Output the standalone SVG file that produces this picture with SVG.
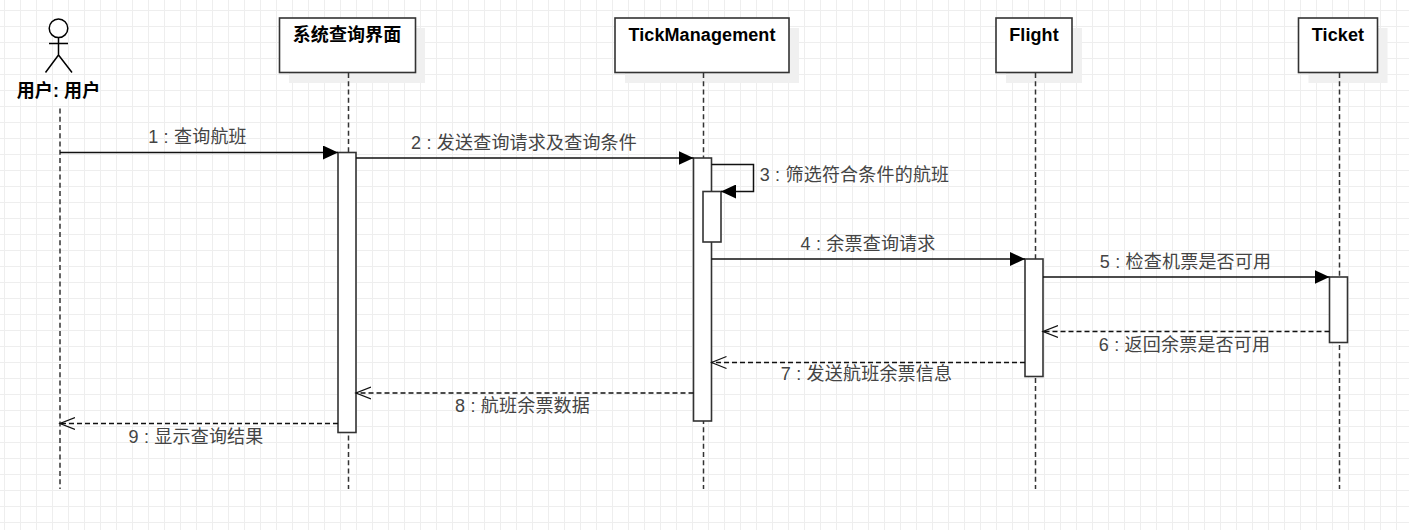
<svg xmlns="http://www.w3.org/2000/svg" width="1409" height="530" viewBox="0 0 1409 530">
<style>
text{font-family:"Liberation Sans","Noto Sans CJK SC",sans-serif;font-size:18px;text-anchor:middle}
.t{font-weight:bold;fill:#000;letter-spacing:.1px}
.m{fill:#444;letter-spacing:.2px}
.box{fill:#fff;stroke:#333;stroke-width:1.6}
.sh{fill:#f0f0f0;stroke:none}
.act{fill:#fff;stroke:#333;stroke-width:1.6}
.life{stroke:#333;stroke-width:1.5;stroke-dasharray:5 3.24;fill:none}
.sync{stroke:#111;stroke-width:1.5;fill:none;marker-end:url(#solid)}
.ret{stroke:#111;stroke-width:1.5;stroke-dasharray:5 3;fill:none;marker-end:url(#open)}
.actor{fill:#fff;stroke:#000;stroke-width:1.5}
</style>
<defs>
<pattern id="grid" width="16" height="16" patternUnits="userSpaceOnUse" x="4" y="10">
<path d="M0.5 0V16M0 0.5H16" stroke="#eeeeee" stroke-width="1" fill="none"/>
</pattern>
<marker id="solid" markerUnits="userSpaceOnUse" markerWidth="16" markerHeight="14" refX="15" refY="7" orient="auto"><path d="M0 0L15 7L0 14Z" fill="#000"/></marker>
<marker id="open" markerUnits="userSpaceOnUse" markerWidth="17" markerHeight="16" refX="15" refY="7" orient="auto"><path d="M0 1L15 7L0 13" fill="none" stroke="#111" stroke-width="1.3"/></marker>
</defs>
<rect width="1409" height="530" fill="#fff"/>
<rect width="1409" height="530" fill="url(#grid)"/>
<g id="user">
<path class="life" d="M60 108.500V489"/>
<circle class="actor" cx="58.500" cy="28.300" r="9.300"/>
<path class="actor" fill="none" d="M58.500 37.600V55M49 43.500H68M58.500 55L45.500 72.500M58.500 55L72 72.500"/>
<text class="t" x="58.500" y="97">用户: 用户</text>
</g>
<g id="ui">
<rect class="sh" x="289" y="28" width="136" height="55"/>
<path class="life" d="M348.500 73V489"/>
<rect class="box" x="279.500" y="18" width="136" height="54.500"/>
<text class="t" x="347" y="41">系统查询界面</text>
<rect class="act" x="338" y="152.500" width="18" height="280"/>
</g>
<g id="tick">
<rect class="sh" x="625" y="28" width="174" height="55"/>
<path class="life" d="M703.500 73V489"/>
<rect class="box" x="615" y="18" width="174" height="54.500"/>
<text class="t" x="702" y="41">TickManagement</text>
<rect class="act" x="693.500" y="158" width="18" height="263"/>
<rect class="act" x="703" y="191.500" width="18" height="50.500"/>
</g>
<g id="flight">
<rect class="sh" x="1006" y="28" width="76" height="55"/>
<path class="life" d="M1035.500 73V489"/>
<rect class="box" x="996" y="18" width="76" height="54.500"/>
<text class="t" x="1034" y="41">Flight</text>
<rect class="act" x="1025" y="259" width="18" height="117.500"/>
</g>
<g id="ticket">
<rect class="sh" x="1308.500" y="28" width="79" height="55"/>
<path class="life" d="M1339.500 73V489"/>
<rect class="box" x="1298.500" y="18" width="79" height="54.500"/>
<text class="t" x="1338" y="41">Ticket</text>
<rect class="act" x="1329.500" y="277" width="18" height="65.500"/>
</g>
<g id="connectors">
<path class="sync" d="M60 152.500H338"/>
<path class="sync" d="M356 158H693.500"/>
<path class="sync" d="M711.500 164.500H753.500V191.500H721"/>
<path class="sync" d="M711.500 259H1025"/>
<path class="sync" d="M1043 277H1329.500"/>
<path class="ret" d="M1329.500 331.500H1043"/>
<path class="ret" d="M1025 362.500H711.500"/>
<path class="ret" d="M693.500 393H356"/>
<path class="ret" d="M338 423.500H60"/>
</g>
<g id="labels">
<text class="m" x="197.500" y="143">1 : 查询航班</text>
<text class="m" x="524" y="149">2 : 发送查询请求及查询条件</text>
<text class="m" x="854.500" y="181">3 : 筛选符合条件的航班</text>
<text class="m" x="868" y="250">4 : 余票查询请求</text>
<text class="m" x="1185.500" y="268">5 : 检查机票是否可用</text>
<text class="m" x="1184.500" y="351">6 : 返回余票是否可用</text>
<text class="m" x="866.500" y="380">7 : 发送航班余票信息</text>
<text class="m" x="522.500" y="412">8 : 航班余票数据</text>
<text class="m" x="196" y="443">9 : 显示查询结果</text>
</g>
</svg>
